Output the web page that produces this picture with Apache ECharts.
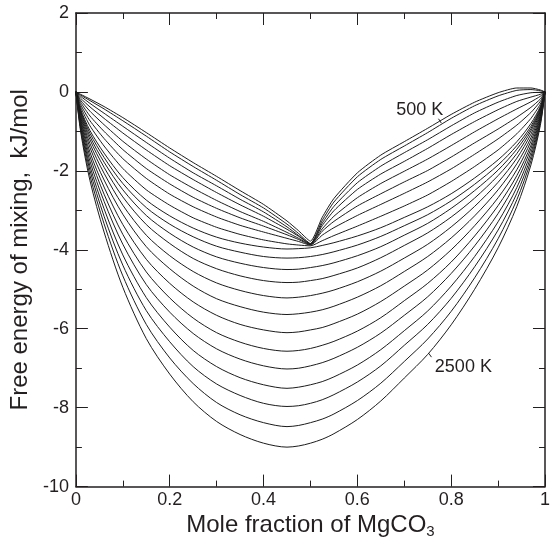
<!DOCTYPE html>
<html>
<head>
<meta charset="utf-8">
<title>Free energy of mixing</title>
<script src="https://cdn.jsdelivr.net/npm/echarts@6/dist/echarts.min.js"></script>
<style>
  html, body { margin: 0; padding: 0; background: #fff; }
  #chart { width: 553px; height: 544px; }
</style>
</head>
<body>
<div id="chart"></div>
<script>
// mole fraction of MgCO3 where the curves were read
const xs = [0, 0.01, 0.03, 0.06, 0.1, 0.15, 0.2, 0.25, 0.3, 0.35, 0.4, 0.45, 0.475, 0.5,
            0.525, 0.55, 0.6, 0.65, 0.7, 0.75, 0.8, 0.85, 0.9, 0.94, 0.97, 0.99, 1];

// free energy of mixing (kJ/mol), one array per temperature
const g500  = [0, -0.06, -0.18, -0.37, -0.65, -1.03, -1.42, -1.79, -2.14, -2.50, -2.85, -3.27, -3.52, -3.78,
               -3.18, -2.70, -2.05, -1.60, -1.26, -0.92, -0.57, -0.26, -0.02, 0.10, 0.10, 0.05, 0];
const g600  = [0, -0.08, -0.22, -0.43, -0.73, -1.12, -1.52, -1.89, -2.24, -2.60, -2.94, -3.35, -3.59, -3.84,
               -3.26, -2.79, -2.15, -1.71, -1.37, -1.03, -0.67, -0.35, -0.10, 0.04, 0.06, 0.03, 0];
const g700  = [0, -0.11, -0.29, -0.54, -0.87, -1.28, -1.68, -2.05, -2.38, -2.72, -3.04, -3.42, -3.64, -3.85,
               -3.33, -2.90, -2.30, -1.88, -1.54, -1.21, -0.86, -0.53, -0.26, -0.09, -0.02, -0.01, 0];
const g800  = [0, -0.16, -0.38, -0.67, -1.04, -1.47, -1.87, -2.22, -2.55, -2.86, -3.15, -3.48, -3.66, -3.85,
               -3.39, -3.01, -2.47, -2.08, -1.76, -1.43, -1.08, -0.75, -0.45, -0.24, -0.13, -0.06, 0];
const g900  = [0, -0.21, -0.49, -0.83, -1.25, -1.70, -2.10, -2.44, -2.75, -3.03, -3.28, -3.56, -3.71, -3.86,
               -3.47, -3.15, -2.68, -2.32, -2.01, -1.70, -1.36, -1.01, -0.68, -0.43, -0.25, -0.11, 0];
const g1000 = [0, -0.26, -0.61, -1.00, -1.46, -1.94, -2.33, -2.67, -2.95, -3.19, -3.40, -3.62, -3.74, -3.87,
               -3.53, -3.28, -2.89, -2.58, -2.28, -1.99, -1.65, -1.29, -0.94, -0.64, -0.39, -0.18, 0];
const g1100 = [0, -0.32, -0.73, -1.18, -1.69, -2.19, -2.59, -2.91, -3.17, -3.38, -3.55, -3.71, -3.79, -3.88,
               -3.63, -3.44, -3.13, -2.85, -2.57, -2.28, -1.95, -1.58, -1.19, -0.84, -0.52, -0.24, 0];
const g1200 = [0, -0.38, -0.86, -1.37, -1.94, -2.48, -2.87, -3.19, -3.43, -3.61, -3.75, -3.85, -3.88, -3.90,
               -3.77, -3.64, -3.40, -3.15, -2.89, -2.61, -2.27, -1.89, -1.47, -1.06, -0.67, -0.31, 0];
const g1300 = [0, -0.44, -0.98, -1.55, -2.17, -2.74, -3.14, -3.45, -3.68, -3.83, -3.93, -3.98, -3.97, -3.95,
               -3.89, -3.82, -3.65, -3.44, -3.18, -2.91, -2.58, -2.18, -1.72, -1.26, -0.80, -0.37, 0];
const g1400 = [0, -0.47, -1.05, -1.66, -2.32, -2.93, -3.35, -3.67, -3.91, -4.06, -4.17, -4.21, -4.20, -4.17,
               -4.12, -4.05, -3.88, -3.66, -3.39, -3.11, -2.76, -2.34, -1.85, -1.36, -0.87, -0.40, 0];
const g1500 = [0, -0.50, -1.13, -1.78, -2.48, -3.13, -3.58, -3.93, -4.18, -4.34, -4.45, -4.50, -4.49, -4.45,
               -4.40, -4.33, -4.15, -3.92, -3.63, -3.33, -2.95, -2.50, -1.98, -1.45, -0.93, -0.43, 0];
const g1600 = [0, -0.54, -1.21, -1.91, -2.66, -3.36, -3.84, -4.22, -4.48, -4.66, -4.78, -4.83, -4.82, -4.78,
               -4.73, -4.65, -4.46, -4.20, -3.89, -3.57, -3.17, -2.69, -2.12, -1.56, -0.99, -0.46, 0];
const g1700 = [0, -0.58, -1.31, -2.06, -2.87, -3.63, -4.15, -4.55, -4.84, -5.03, -5.16, -5.22, -5.20, -5.16,
               -5.10, -5.02, -4.81, -4.54, -4.21, -3.86, -3.42, -2.90, -2.29, -1.68, -1.07, -0.49, 0];
const g1800 = [0, -0.63, -1.41, -2.23, -3.10, -3.92, -4.48, -4.92, -5.24, -5.44, -5.58, -5.64, -5.62, -5.58,
               -5.52, -5.43, -5.20, -4.91, -4.55, -4.17, -3.70, -3.14, -2.48, -1.82, -1.16, -0.53, 0];
const g1900 = [0, -0.68, -1.53, -2.41, -3.36, -4.24, -4.85, -5.32, -5.66, -5.89, -6.03, -6.10, -6.08, -6.03,
               -5.97, -5.87, -5.63, -5.31, -4.92, -4.51, -4.00, -3.39, -2.68, -1.97, -1.25, -0.58, 0];
const g2000 = [0, -0.73, -1.64, -2.59, -3.61, -4.56, -5.22, -5.73, -6.10, -6.34, -6.50, -6.57, -6.55, -6.50,
               -6.42, -6.32, -6.06, -5.72, -5.29, -4.85, -4.31, -3.65, -2.88, -2.12, -1.35, -0.62, 0];
const g2100 = [0, -0.78, -1.76, -2.77, -3.86, -4.88, -5.58, -6.12, -6.51, -6.77, -6.94, -7.02, -7.00, -6.94,
               -6.86, -6.75, -6.47, -6.11, -5.66, -5.19, -4.60, -3.90, -3.08, -2.26, -1.44, -0.66, 0];
const g2200 = [0, -0.83, -1.88, -2.96, -4.13, -5.21, -5.96, -6.55, -6.96, -7.24, -7.42, -7.51, -7.48, -7.42,
               -7.34, -7.22, -6.92, -6.53, -6.05, -5.55, -4.92, -4.17, -3.29, -2.42, -1.54, -0.71, 0];
const g2300 = [0, -0.89, -1.99, -3.15, -4.39, -5.54, -6.33, -6.96, -7.40, -7.69, -7.89, -7.97, -7.95, -7.89,
               -7.80, -7.67, -7.35, -6.94, -6.42, -5.89, -5.23, -4.43, -3.50, -2.57, -1.64, -0.75, 0];
const g2400 = [0, -0.94, -2.12, -3.34, -4.66, -5.89, -6.74, -7.39, -7.87, -8.18, -8.38, -8.48, -8.45, -8.38,
               -8.29, -8.16, -7.82, -7.38, -6.83, -6.26, -5.56, -4.71, -3.72, -2.73, -1.74, -0.80, 0];
const g2500 = [0, -1.00, -2.25, -3.55, -4.95, -6.25, -7.15, -7.85, -8.35, -8.68, -8.90, -9.00, -8.97, -8.90,
               -8.80, -8.66, -8.30, -7.83, -7.25, -6.65, -5.90, -5.00, -3.95, -2.90, -1.85, -0.85, 0];

const temps = [500, 600, 700, 800, 900, 1000, 1100, 1200, 1300, 1400, 1500,
               1600, 1700, 1800, 1900, 2000, 2100, 2200, 2300, 2400, 2500];
const curves = [g500, g600, g700, g800, g900, g1000, g1100, g1200, g1300, g1400, g1500,
                g1600, g1700, g1800, g1900, g2000, g2100, g2200, g2300, g2400, g2500];

const FONT = '"Liberation Sans", Arial, Helvetica, sans-serif';
const INK = '#231f20';

const chart = echarts.init(document.getElementById('chart'), null, { renderer: 'canvas' });

const frameAxis = (extra) => Object.assign({
    type: 'value',
    axisLine: { show: true, onZero: false, lineStyle: { color: INK, width: 1.5 } },
    axisTick: { show: true, inside: true, length: 12, lineStyle: { color: INK, width: 1 } },
    minorTick: { show: true, splitNumber: 2, length: 6, lineStyle: { color: INK, width: 1 } },
    splitLine: { show: false },
    minorSplitLine: { show: false }
}, extra);

const series = temps.map((t, i) => ({
    name: t + ' K',
    type: 'line',
    xAxisIndex: 0,
    yAxisIndex: 0,
    data: xs.map((x, j) => [x, curves[i][j]]),
    showSymbol: false,
    smooth: t < 1300 ? 0.2 : 0.3,
    silent: true,
    lineStyle: { color: '#1c1c1c', width: 1 },
    z: 2
}));

chart.setOption({
    animation: false,
    backgroundColor: '#fff',
    grid: { left: 75, right: 3, top: 13, bottom: 57, containLabel: false },
    xAxis: [
        frameAxis({
            position: 'bottom',
            min: 0, max: 1, interval: 0.2,
            axisLabel: {
                show: true, margin: 4, fontFamily: FONT, fontSize: 18, color: INK,
                formatter: v => (v === 0 || v === 1) ? String(v) : v.toFixed(1)
            },
            name: 'Mole fraction of MgCO{sub|3}',
            nameLocation: 'middle',
            nameGap: 25,
            nameTextStyle: {
                fontFamily: FONT, fontSize: 24, color: INK,
                rich: { sub: { fontFamily: FONT, fontSize: 15, color: INK, verticalAlign: 'bottom', padding: [12, 0, 0, 0] } }
            }
        }),
        frameAxis({
            position: 'top',
            min: 0, max: 1, interval: 0.2,
            axisLabel: { show: false }
        })
    ],
    yAxis: [
        frameAxis({
            position: 'left',
            min: -10, max: 2, interval: 2,
            axisLabel: { show: true, margin: 7, fontFamily: FONT, fontSize: 18, color: INK },
            name: 'Free energy of mixing,  kJ/mol',
            nameLocation: 'middle',
            nameGap: 41,
            nameTextStyle: { fontFamily: FONT, fontSize: 24, color: INK }
        }),
        frameAxis({
            position: 'right',
            min: -10, max: 2, interval: 2,
            axisLabel: { show: false }
        })
    ],
    series: series
});

// temperature annotations with short leader lines, placed in data coordinates
function addNotes() {
    const p = (x, y) => chart.convertToPixel({ xAxisIndex: 0, yAxisIndex: 0 }, [x, y]);
    const notes = [
        { text: '500 K', at: [0.733, -0.46], lead: [[0.773, -0.68], [0.779, -0.79]] },
        { text: '2500 K', at: [0.826, -6.97], lead: [[0.752, -6.62], [0.758, -6.72]] }
    ];
    const elements = [];
    notes.forEach(n => {
        const c = p(n.at[0], n.at[1]);
        elements.push({
            type: 'text', x: c[0], y: c[1], z: 10,
            style: { text: n.text, font: '18px ' + FONT, fill: INK, align: 'center', verticalAlign: 'middle' }
        });
        const a = p(n.lead[0][0], n.lead[0][1]);
        const b = p(n.lead[1][0], n.lead[1][1]);
        elements.push({
            type: 'line', z: 10,
            shape: { x1: a[0], y1: a[1], x2: b[0], y2: b[1] },
            style: { stroke: INK, lineWidth: 1 }
        });
    });
    chart.setOption({ graphic: { elements: elements } });
}
addNotes();
</script>
</body>
</html>
